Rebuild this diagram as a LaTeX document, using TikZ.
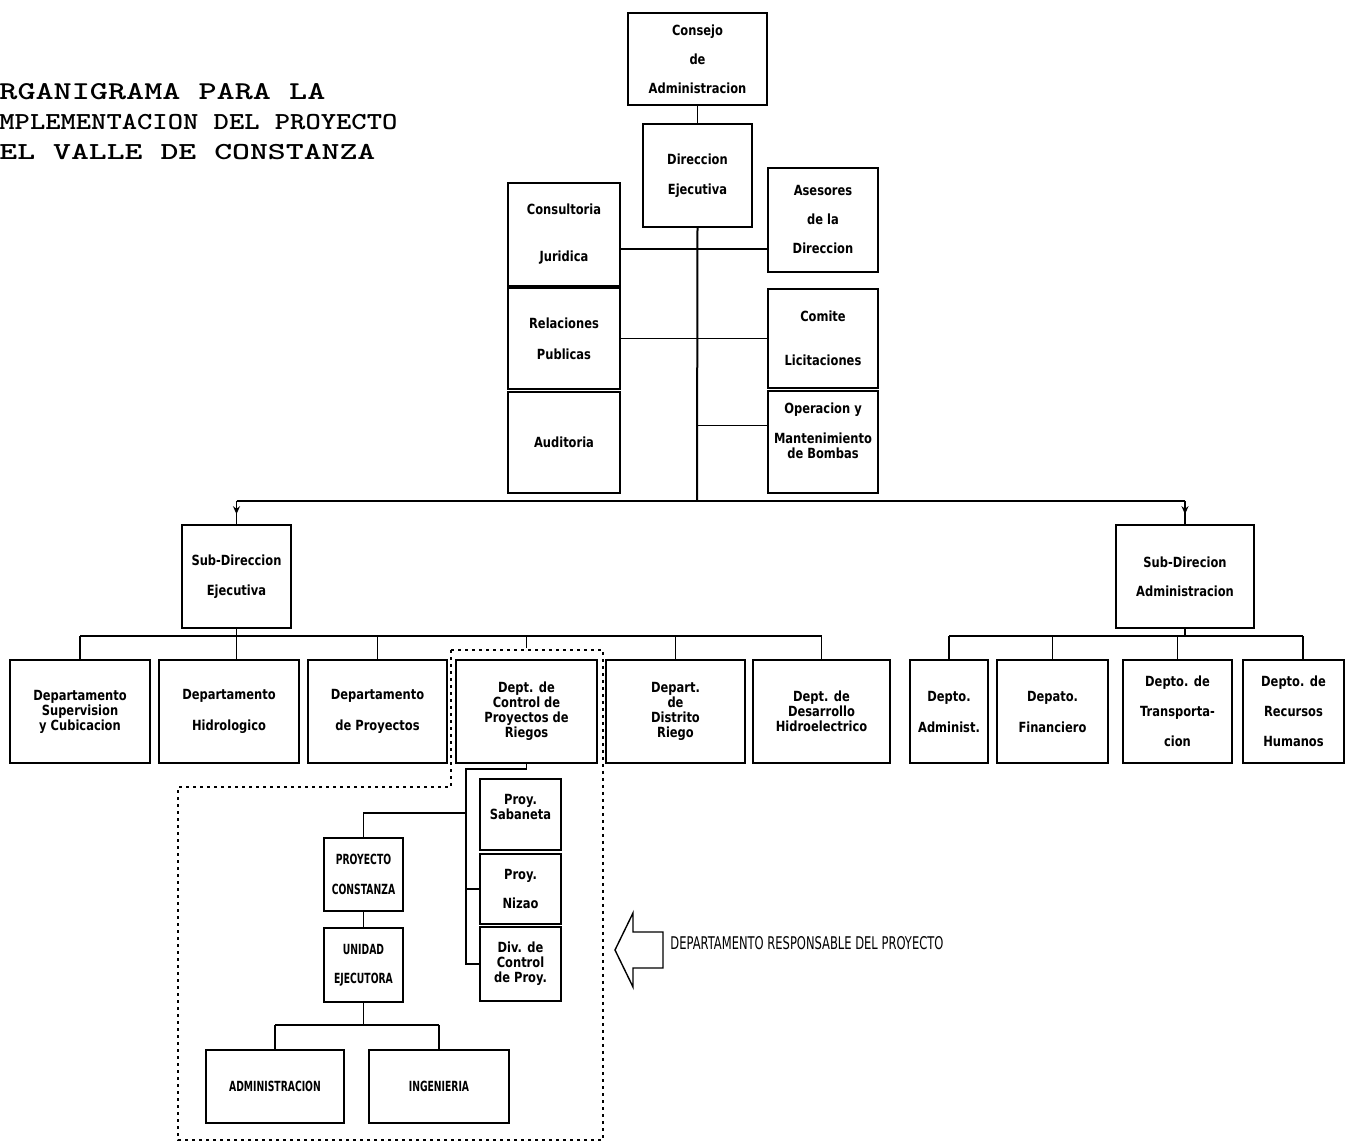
\documentclass[tikz,border=0pt]{standalone}
\usepackage{fontspec}
\usepackage{graphicx}
\usetikzlibrary{arrows.meta,decorations.markings}
\newfontfamily\bxfont[FakeStretch=0.82]{DejaVu Sans}
\newfontfamily\cpfont[FakeStretch=0.66]{DejaVu Sans}
\newfontfamily\arfont{DejaVu Sans}
\tikzset{
  obx/.style={draw, line width=1pt, inner sep=0pt, outer sep=0pt, align=center,
    font=\bxfont\bfseries\fontsize{7}{7.5}\selectfont},
  capsbox/.style={font=\cpfont\bfseries\fontsize{7}{7.5}\selectfont},
  conn/.style={line width=0.8pt},
  thinconn/.style={line width=0.5pt},
  dotframe/.style={line width=0.9pt, dash pattern=on 1.5pt off 2pt},
  midarr/.style={postaction={decorate}, decoration={markings,
    mark=at position 0.55 with {\arrow{Stealth[length=4pt,width=3.5pt]}}}},
  ttl/.style={anchor=base west, inner sep=0pt, font=\ttfamily\bfseries}
}
\newcommand\orgbox[7][]{\node[obx,#1,minimum width={(#5-#3)*0.5pt},minimum height={(#6-#4)*0.5pt}] (#2) at ({(#3+#5)/2},{(#4+#6)/2}) {#7};}
\begin{document}
\begin{tikzpicture}[x=0.5pt,y=-0.5pt]
\useasboundingbox (0,0) rectangle (1345,1143);
\fill[white] (0,0) rectangle (1345,1143);

% title
\node[ttl] (t1) at (-1,100) {\resizebox{163pt}{8pt}{RGANIGRAMA PARA LA}};
\node[ttl] (t2) at (-1,130) {\resizebox{199pt}{7.6pt}{MPLEMENTACION DEL PROYECTO}};
\node[ttl] (t3) at (-1,160) {\resizebox{188pt}{7.6pt}{EL VALLE DE CONSTANZA}};

% top
\orgbox{cons}{628}{13}{767}{105}{Consejo\\[7pt]de\\[7pt]Administracion}
\orgbox{dir}{643}{124}{752}{227}{Direccion\\[7.5pt]Ejecutiva}
\orgbox{cjur}{508}{183}{620}{286}{Consultoria\\[16pt]Juridica}
\orgbox{ases}{768}{168}{878}{272}{Asesores\\[7pt]de la\\[7pt]Direccion}
\orgbox{rel}{508}{288}{620}{389}{Relaciones\\[8pt]Publicas}
\orgbox{aud}{508}{392}{620}{493}{Auditoria}
\orgbox{com}{768}{289}{878}{388}{Comite\\[14.5pt]Licitaciones}
\orgbox{ope}{768}{391}{878}{493}{Operacion y\\[7.5pt]Mantenimiento\\de Bombas\\[4pt]~}

\coordinate (J) at (697,501);
\coordinate (l1) at (697,249);
\coordinate (l3) at (697,426);
\draw[conn] (cons.south) -- (dir.north);
\draw[conn, line width=1pt] (dir.south) -- (J);
\draw[conn] (cjur.east |- l1) -- (ases.west |- l1);
\draw[thinconn] (rel.east) -- (com.west);
\draw[thinconn] (l3) -- (ope.west |- l3);

% sub-direcciones
\orgbox{subE}{182}{525}{291}{628}{Sub-Direccion\\[7.5pt]Ejecutiva}
\orgbox{subA}{1116}{525}{1254}{628}{Sub-Direcion\\[7pt]Administracion}
\draw[conn] (subE.north |- J) -- (subA.north |- J);
\draw[conn, midarr] (subE.north |- J) -- (subE.north);
\draw[conn, midarr] (subA.north |- J) -- (subA.north);

% departments left
\orgbox{d1}{10}{660}{150}{763}{Departamento\\Supervision\\y Cubicacion}
\orgbox{d2}{159}{660}{299}{763}{Departamento\\[8pt]Hidrologico}
\orgbox{d3}{308}{660}{447}{763}{Departamento\\[8pt]de Proyectos}
\orgbox{d4}{456}{660}{597}{763}{Dept. de\\Control de\\Proyectos de\\Riegos}
\orgbox{d5}{606}{660}{745}{763}{Depart.\\de\\Distrito\\Riego}
\orgbox{d6}{753}{660}{890}{763}{Dept. de\\Desarrollo\\Hidroelectrico}

\coordinate (HL) at (0,636);
\coordinate (FT) at (0,648);
\draw[conn] (subE.south) -- (subE.south |- d2.north);
\draw[conn] (d1.north |- HL) -- (d6.north |- HL);
\foreach \n in {d1,d3,d5,d6} \draw[conn] (\n.north |- HL) -- (\n.north);
\draw[conn] (d4.north |- HL) -- (d4.north |- FT);

% departments right
\orgbox{a1}{910}{660}{988}{763}{Depto.\\[8pt]Administ.}
\orgbox{a2}{997}{660}{1108}{763}{Depato.\\[8pt]Financiero}
\orgbox{a3}{1123}{660}{1232}{763}{Depto. de\\[7.5pt]Transporta-\\[7.5pt]cion}
\orgbox{a4}{1243}{660}{1344}{763}{Depto. de\\[7.5pt]Recursos\\[7.5pt]Humanos}
\coordinate (hA) at (1303,636);
\draw[conn] (subA.south) -- (subA.south |- HL);
\draw[conn] (a1.north |- HL) -- (hA);
\foreach \n in {a1,a2,a3} \draw[conn] (\n.north |- HL) -- (\n.north);
\draw[conn] (hA) -- (hA |- a4.north);

% dotted frame
\draw[dotframe] (451,650) -- (603,650) -- (603,1140) -- (178,1140) -- (178,787) -- (451,787) -- cycle;

% lower part
\orgbox{sab}{480}{779}{561}{850}{Proy.\\Sabaneta\\~}
\orgbox{niz}{480}{854}{561}{924}{Proy.\\[7pt]Nizao}
\orgbox{div}{480}{927}{561}{1001}{Div. de\\Control\\de Proy.}
\orgbox[capsbox]{pc}{324}{838}{403}{911}{PROYECTO\\[7.5pt]CONSTANZA}
\orgbox[capsbox]{ue}{324}{928}{403}{1002}{UNIDAD\\[7pt]EJECUTORA}
\orgbox[capsbox]{adm}{206}{1050}{344}{1123}{ADMINISTRACION}
\orgbox[capsbox]{ing}{369}{1050}{509}{1123}{INGENIERIA}

\coordinate (k2) at (466,769);
\coordinate (k3) at (466,813);
\coordinate (k4) at (0,1025);
\draw[conn] (d4.south) -- (d4.south |- k2) -- (k2) -- (k2 |- div.west) -- (div.west);
\draw[conn] (k3) -- (k3 -| pc.north) -- (pc.north);
\draw[conn] (k2 |- niz.west) -- (niz.west);
\draw[conn] (pc.south) -- (ue.north);
\draw[conn] (ue.south) -- (ue.south |- k4);
\draw[conn] (adm.north |- k4) -- (ing.north |- k4);
\draw[conn] (adm.north |- k4) -- (adm.north);
\draw[conn] (ing.north |- k4) -- (ing.north);

% pointer arrow
\draw[line width=0.7pt, line join=miter] (615,950) -- (633,913) -- (633,932) -- (663,932) -- (663,968) -- (633,968) -- (633,987) -- cycle;
\node[anchor=west, inner sep=0pt] (resp) at (670,943) {\resizebox{136.5pt}{6.5pt}{\arfont DEPARTAMENTO RESPONSABLE DEL PROYECTO}};
\end{tikzpicture}
\end{document}
